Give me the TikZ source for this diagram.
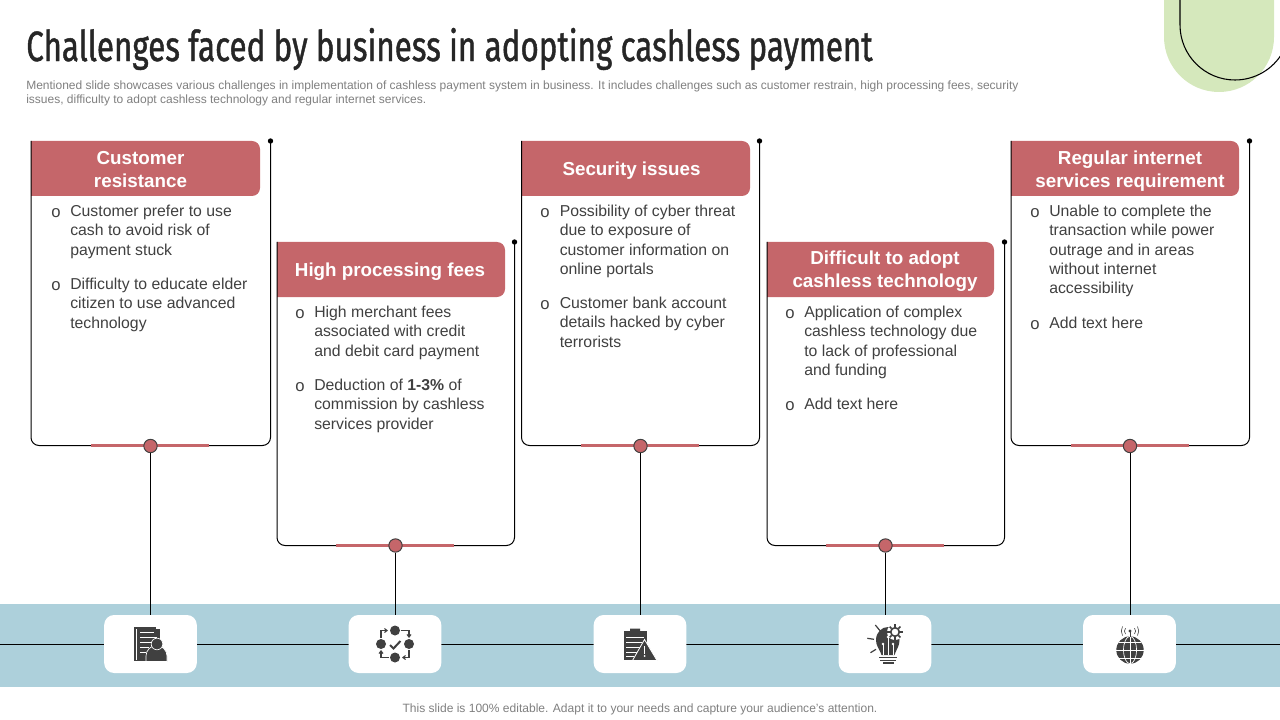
\documentclass[tikz,border=0pt]{standalone}
\usepackage{fontspec}
\usetikzlibrary{arrows.meta}
\setmainfont{Liberation Sans}
\newfontfamily\titlefont[FakeStretch=0.74,FakeBold=1.0]{Fira Sans}
\definecolor{rosefill}{HTML}{C5666A}
\definecolor{bandblue}{HTML}{ADD0DB}
\definecolor{leaf}{HTML}{D5E8BC}
\definecolor{ink}{HTML}{404040}
\definecolor{greytxt}{HTML}{7F7F7F}
\tikzset{
  x=0.75pt,y=-0.75pt,
  para/.style={anchor=north west,inner sep=0pt,align=left,text=ink,font=\fontsize{11.85}{14.4}\selectfont},
  bul/.style={anchor=center,inner sep=0pt,text=ink,font=\fontsize{12.5}{14}\selectfont},
  head/.style={inner sep=0pt,align=center,text=white,font=\bfseries\fontsize{14.1}{17.25}\selectfont},
  frame/.style={draw=black,line width=0.75pt,rounded corners=6pt},
  rosebar/.style={draw=rosefill,line width=2.2pt},
  hub/.style={circle,draw=ink,fill=rosefill,line width=0.75pt,minimum size=10pt,inner sep=0pt},
  tile/.style={rectangle,fill=white,rounded corners=7.5pt,minimum width=69.5pt,minimum height=43.5pt,inner sep=0pt},
  wire/.style={draw=black,line width=0.75pt},
  note/.style={inner sep=0pt,text=greytxt},
  icon/.style={fill=ink,draw=none},
  iconline/.style={draw=ink,line width=0.9pt},
  iconwhite/.style={draw=white,line width=0.55pt},
}
% card: x0, x1, y0, y1, header right
\newcommand{\cardbody}[5]{%
  \fill[rosefill] (#1,#3) [rounded corners=6pt] -- (#5,#3) -- (#5,#3+55) [sharp corners] -- (#1,#3+55) -- cycle;
  \draw[frame] (#1,#3) -- (#1,#4) -- (#2,#4) -- (#2,#3);
  \fill[black] (#2,#3) circle[radius=2.7];
}
\begin{document}
\begin{tikzpicture}
\useasboundingbox (0,0) rectangle (1280,720);
\begin{scope}
\clip (0,0) rectangle (1280,720);
% corner decoration
\fill[leaf] (1164,-5) -- (1164,37) arc[start angle=180,end angle=0,radius=55] -- (1274,-5) -- cycle;
\draw[black,line width=0.8pt] (1180,-5) -- (1180,25) arc[start angle=180,end angle=30,radius=55];
\end{scope}
% title
\node[anchor=west,inner sep=0pt,text=black!85,font=\titlefont\fontsize{31.8}{36}\selectfont] (title) at (26,49) {Challenges faced by business in adopting cashless payment};
\node[anchor=north west,inner sep=0pt,align=left,text=greytxt,font=\fontsize{9}{10.5}\selectfont] (sub) at (26,80.5) {Mentioned slide showcases various challenges in implementation of cashless payment system in business. It includes challenges such as customer restrain, high processing fees, security\\issues, difficulty to  adopt cashless technology and regular internet services.};
% band
\fill[bandblue] (0,604) rectangle (1280,687);
\coordinate (midL) at (0,644.5);
\coordinate (midR) at (1280,644.5);
\draw[wire] (midL) -- (midR);
% cards
\cardbody{31}{270.5}{141}{445.5}{260}
\cardbody{277}{514.5}{242}{545.5}{505}
\cardbody{521.5}{759.5}{141}{445.5}{750}
\cardbody{767}{1004.5}{242}{545.5}{994}
\cardbody{1011}{1249.5}{141}{445.5}{1239}
% rose bars
\draw[rosebar] (91,445.5) -- (209,445.5);
\draw[rosebar] (336,545.5) -- (454,545.5);
\draw[rosebar] (581,445.5) -- (699,445.5);
\draw[rosebar] (826,545.5) -- (944,545.5);
\draw[rosebar] (1071,445.5) -- (1189,445.5);
% hubs and tiles
\node[hub] (hubA) at (150.5,446) {};
\node[hub] (hubB) at (395.5,545.5) {};
\node[hub] (hubC) at (640.5,446) {};
\node[hub] (hubD) at (885.5,545.5) {};
\node[hub] (hubE) at (1130,446) {};
\node[tile] (tileA) at (150.5,644) {};
\node[tile] (tileB) at (395,644) {};
\node[tile] (tileC) at (640,644) {};
\node[tile] (tileD) at (885,644) {};
\node[tile] (tileE) at (1129.5,644) {};
\draw[wire] (hubA) -- (tileA.north -| hubA);
\draw[wire] (hubB) -- (tileB.north -| hubB);
\draw[wire] (hubC) -- (tileC.north -| hubC);
\draw[wire] (hubD) -- (tileD.north -| hubD);
\draw[wire] (hubE) -- (tileE.north -| hubE);
% headers
\node[head] (hA) at (140.5,169.5) {Customer\\resistance};
\node[head] (hB) at (390,271.5) {High processing fees};
\node[head] (hC) at (631.5,170.5) {Security issues};
\node[head] (hD) at (885,271) {Difficult to adopt\\cashless technology};
\node[head] (hE) at (1130,171.5) {Regular internet\\services requirement};
% card 1
\node[bul] (b1a) at (56,213) {o};
\node[para] (t1a) at (70,203) {\strut Customer prefer to use\\cash to avoid risk of\\payment stuck};
\node[bul] (b1b) at (56,286) {o};
\node[para] (t1b) at (70,276) {\strut Difficulty to educate elder\\citizen to use advanced\\technology};
% card 2
\node[bul] (b2a) at (300,314) {o};
\node[para] (t2a) at (314,304) {\strut High merchant fees\\associated with credit\\and debit card payment};
\node[bul] (b2b) at (300,387) {o};
\node[para] (t2b) at (314,377) {\strut Deduction of \textbf{1-3\%} of\\commission by cashless\\services provider};
% card 3
\node[bul] (b3a) at (545,213) {o};
\node[para] (t3a) at (559.5,203) {\strut Possibility of cyber threat\\due to exposure of\\customer information on\\online portals};
\node[bul] (b3b) at (545,305) {o};
\node[para] (t3b) at (559.5,295) {\strut Customer bank account\\details hacked by cyber\\terrorists};
% card 4
\node[bul] (b4a) at (790,314) {o};
\node[para] (t4a) at (804,304) {\strut Application of complex\\cashless technology  due\\to lack of professional\\and funding};
\node[bul] (b4b) at (790,406) {o};
\node[para] (t4b) at (804,396) {\strut Add text here};
% card 5
\node[bul] (b5a) at (1035,213) {o};
\node[para] (t5a) at (1049,203) {\strut Unable to complete the\\transaction while power\\outrage and in areas\\without internet\\accessibility};
\node[bul] (b5b) at (1035,325) {o};
\node[para] (t5b) at (1049,315) {\strut Add text here};
% footer
\node[note,font=\fontsize{9.03}{11}\selectfont] (foot) at (640,709.5) {This slide is 100\% editable. Adapt it to your needs and capture your audience's attention.};
% ---- icon A: documents and person
\fill[icon] (134,627) rectangle (156,661);
\fill[icon] (137,629) rectangle (160,661);
\draw[white,line width=0.4pt] (136.5,629) -- (136.5,660);
\foreach \yy/\xe in {632/154,637/157,642/151,647/149,652/146}{\draw[iconwhite,line width=0.45pt] (140,\yy) -- (\xe,\yy);}
\fill[icon,draw=white,line width=0.5pt] (146,661.5) -- (146,656) arc[start angle=180,end angle=360,radius=10.5] -- (167,661.5) -- cycle;
\fill[icon,draw=white,line width=0.5pt] (157,644) circle[radius=5.8];
% ---- icon B: process cycle
\fill[icon] (395,630.5) circle[radius=5];
\fill[icon] (381,644) circle[radius=5];
\fill[icon] (409,644) circle[radius=5];
\fill[icon] (395,657.5) circle[radius=5];
\draw[iconline,line width=0.8pt,-{Straight Barb[length=2pt,width=3pt]}] (381,638) -- (381,630.5) -- (388,630.5);
\draw[iconline,line width=0.8pt,-{Straight Barb[length=2pt,width=3pt]}] (401,630.5) -- (409,630.5) -- (409,638);
\draw[iconline,line width=0.8pt,-{Straight Barb[length=2pt,width=3pt]}] (409,650) -- (409,657.5) -- (402,657.5);
\draw[iconline,line width=0.8pt,-{Straight Barb[length=2pt,width=3pt]}] (389,657.5) -- (381,657.5) -- (381,650);
\draw[ink,line width=1.5pt] (390,645) -- (393.5,648.5) -- (400.5,641);
% ---- icon C: clipboard with warning
\fill[icon] (624,631) rectangle (647,660);
\fill[icon] (630,631) -- (630,628.5) -- (640,628.5) -- (640,632) -- cycle;
\foreach \yy/\xe in {637/644,642/642,647/640,652/637,656/634}{\draw[iconwhite,line width=0.45pt] (626,\yy) -- (\xe,\yy);}
\fill[icon,draw=white,line width=0.6pt] (644.5,639.5) -- (657,660.5) -- (632.5,660.5) -- cycle;
\fill[white] (643.7,646) rectangle (645.3,653.5);
\fill[white] (644.5,656) circle[radius=1];
% ---- icon D: bulb with gear
\fill[icon] (881.5,655) .. controls (879,648) and (876,646) .. (876,640) .. controls (876,632) and (882,627) .. (888,627) .. controls (894,627) and (899.5,632) .. (899.5,640) .. controls (899.5,646) and (897,648) .. (894.5,655) -- cycle;
\draw[iconwhite,line width=0.5pt] (888,655) -- (888,637);
\draw[iconwhite,line width=0.5pt] (883,655) -- (883,644) ;
\draw[iconwhite,line width=0.5pt] (893,655) -- (893,644);
\fill[white] (888,637) circle[radius=1.4] (883,644) circle[radius=1.4] (893,644) circle[radius=1.4];
\draw[iconline,line width=1.1pt] (879,657.5) -- (897,657.5);
\draw[iconline,line width=1.1pt] (880,660.5) -- (896,660.5);
\fill[icon] (882.5,662) rectangle (893.5,664);
\fill[white] (895,632) circle[radius=8];
\draw[ink,line width=1.2pt] (895,632) circle[radius=4.3];
\foreach \a in {0,45,...,315}{\draw[ink,line width=1.2pt] (895,632) ++(\a:5) -- ++(\a:2.6);}
\draw[iconline,line width=0.9pt] (875.3,625) -- (880,630.7);
\draw[iconline,line width=0.9pt] (867.3,638.3) -- (874,639.3);
\draw[iconline,line width=0.9pt] (870.5,652.7) -- (876,649.3);
% ---- icon E: globe and antenna
\fill[icon] (1130,650) circle[radius=13.7];
\draw[iconwhite,line width=0.5pt] (1130,636.3) -- (1130,663.7);
\draw[iconwhite,line width=0.5pt] (1116.3,650) -- (1143.7,650);
\draw[iconwhite,line width=0.5pt] (1130,650) ellipse[x radius=6.5,y radius=13.7];
\draw[iconwhite,line width=0.5pt] (1119,642) -- (1141,642);
\draw[iconwhite,line width=0.5pt] (1119,658) -- (1141,658);
\fill[icon] (1130,631) circle[radius=1.7];
\draw[ink,line width=0.5pt] (1130,631) -- (1130,637);
\draw[ink,line width=0.45pt] (1125.5,634) arc[start angle=140,end angle=220,radius=4.5];
\draw[ink,line width=0.45pt] (1134.5,634) arc[start angle=40,end angle=-40,radius=4.5];
\draw[ink,line width=0.45pt] (1122.5,635.5) arc[start angle=150,end angle=210,radius=9];
\draw[ink,line width=0.45pt] (1137.5,635.5) arc[start angle=30,end angle=-30,radius=9];
\end{tikzpicture}
\end{document}
